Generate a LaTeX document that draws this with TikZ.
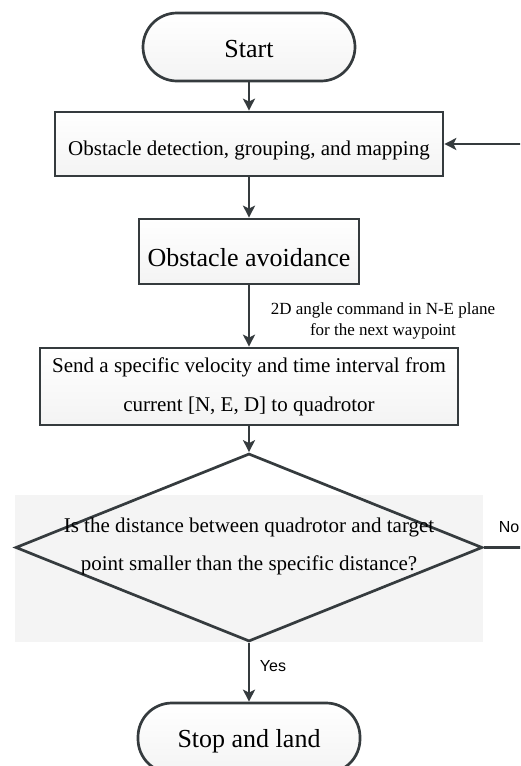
\documentclass[tikz,border=0pt]{standalone}
\usepackage{fontspec}
\setmainfont{Liberation Serif}
\newfontfamily\labsans{Liberation Sans}
\usetikzlibrary{arrows.meta,shapes.geometric}
\definecolor{ln}{HTML}{353B3E}
\definecolor{bggray}{HTML}{F4F4F4}
\begin{document}
\begin{tikzpicture}[x=1pt,y=-1pt,
  box/.style={draw=ln, line width=2.7pt, top color=white, bottom color=gray!9, inner sep=0pt, align=center, text=black},
  term/.style={box, rounded corners=34pt},
  dia/.style={draw=ln, line width=2.7pt, diamond, inner sep=0pt},
  arr/.style={draw=ln, line width=2.7pt, -{Stealth[length=12pt,width=12pt,inset=3pt]}},
  sanslab/.style={font=\labsans\fontsize{16}{18}\selectfont, inner sep=0pt}]
\useasboundingbox (0,0) rectangle (520,766);
\clip (0,0) rectangle (520,766);
\fill[bggray] (15,495) rectangle (483,642);

\node[term, minimum width=212pt, minimum height=68pt, font=\fontsize{26}{30}\selectfont, text height=20pt, text depth=0pt] (start) at (249,47) {Start};
\node[box, minimum width=388pt, minimum height=64pt, font=\fontsize{21}{25}\selectfont, text height=26pt, text depth=4pt] (obs) at (249,144) {Obstacle detection, grouping, and mapping};
\node[box, minimum width=220pt, minimum height=65pt, font=\fontsize{26}{30}\selectfont, text height=29pt, text depth=0pt] (avoid) at (249,251.5) {Obstacle avoidance};
\node[box, minimum width=418pt, minimum height=77pt, font=\fontsize{21}{39}\selectfont] (send) at (249,386.5) {Send a specific velocity and time interval from\\current [N, E, D] to quadrotor};
\node[dia, minimum width=467pt, minimum height=188pt] (dec) at (249,547.5) {};
\node[align=center, inner sep=0pt, font=\fontsize{21}{38}\selectfont] (dectext) at ([yshift=1pt]dec.center) {Is the distance between quadrotor and target\\point smaller than the specific distance?};
\node[term, minimum width=222pt, minimum height=70pt, font=\fontsize{26}{30}\selectfont, text height=24pt, text depth=6pt] (stop) at (249,738) {Stop and land};

\draw[arr] (start) -- (obs);
\draw[arr] (obs) -- (avoid);
\draw[arr] (avoid) -- (send);
\node[align=center, inner sep=0pt, font=\fontsize{17}{21}\selectfont] (cmdlab) at (383,321) {2D angle command in N-E plane\\for the next waypoint};
\draw[arr] (send) -- (dec.north);
\draw[arr] (dec.south) -- (stop);
\node[sanslab] (yeslab) at (273,666) {Yes};
\draw[arr] (dec.east) -- ++(80,0) |- (obs.east);
\node[sanslab] (nolab) at (509,527) {No};
\end{tikzpicture}
\end{document}
